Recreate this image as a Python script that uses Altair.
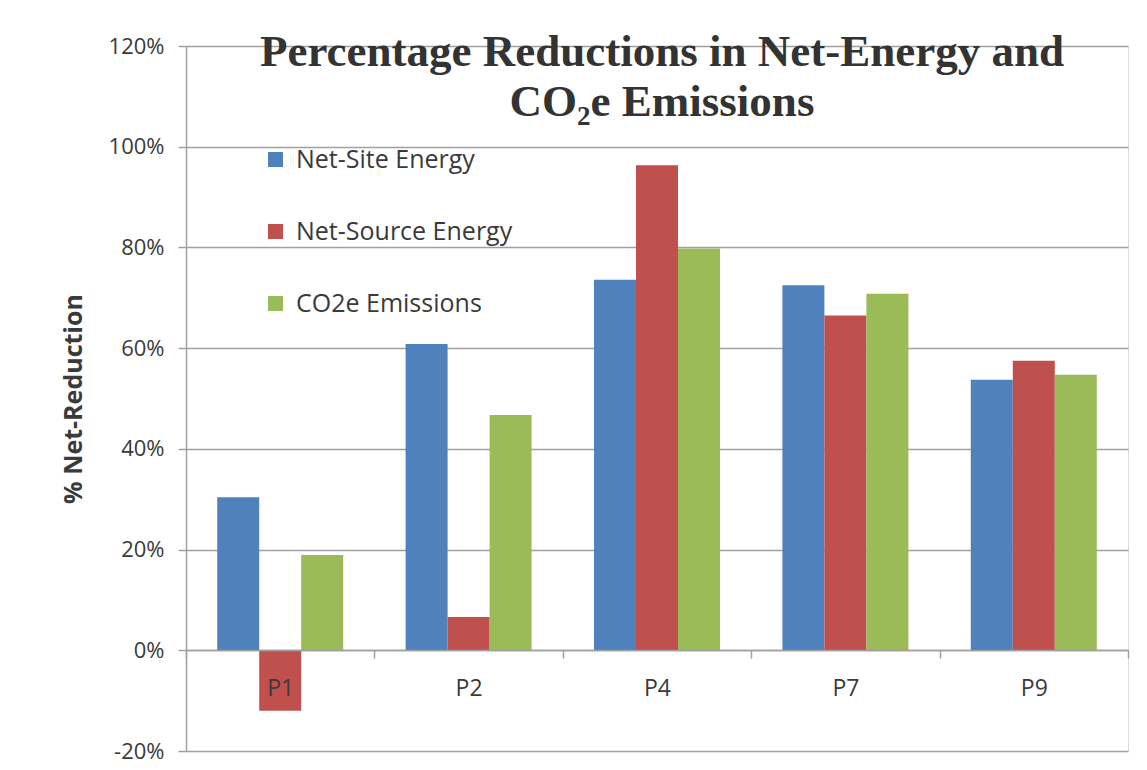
import altair as alt
import pandas as pd

projects = ["P1", "P2", "P4", "P7", "P9"]
series_names = ["Net-Site Energy", "Net-Source Energy", "CO2e Emissions"]
net_site = [0.304, 0.608, 0.736, 0.725, 0.537]
net_source = [-0.120, 0.066, 0.963, 0.665, 0.575]
co2e = [0.189, 0.467, 0.798, 0.708, 0.547]
colors = ["#4F81BD", "#C0504D", "#9BBB59"]
y_ticks = [-0.2, 0.0, 0.2, 0.4, 0.6, 0.8, 1.0, 1.2]

rows = []
for name, vals in zip(series_names, [net_site, net_source, co2e]):
    for p, v in zip(projects, vals):
        rows.append({"project": p, "series": name, "value": v})
df = pd.DataFrame(rows)

label_font = "Open Sans"
text_color = "#3a3a3a"
grid_color = "#a0a0a0"

bars = alt.Chart(df).mark_bar().encode(
    x=alt.X(
        "project:N",
        sort=projects,
        scale=alt.Scale(paddingInner=0, paddingOuter=0),
        axis=alt.Axis(
            title=None,
            orient="bottom",
            offset=-101,
            tickBand="extent",
            tickSize=8,
            tickColor=grid_color,
            tickWidth=1.5,
            domainColor=grid_color,
            domainWidth=1.5,
            labelFont=label_font,
            labelFontSize=23,
            labelColor=text_color,
            labelPadding=19,
            labelAngle=0,
            grid=False,
            zindex=1,
        ),
    ),
    xOffset=alt.XOffset("series:N", sort=series_names, scale=alt.Scale(paddingInner=0, paddingOuter=0.743)),
    y=alt.Y(
        "value:Q",
        scale=alt.Scale(domain=[-0.2, 1.2], nice=False, zero=False),
        axis=alt.Axis(
            title="% Net-Reduction",
            titleFont=label_font,
            titleFontSize=25,
            titleFontWeight="bold",
            titleColor=text_color,
            titlePadding=22,
            values=y_ticks,
            format=".0%",
            labelExpr="replace(datum.label, '\u2212', '-')",
            labelFont=label_font,
            labelFontSize=22,
            labelColor=text_color,
            labelPadding=14,
            tickSize=8,
            tickColor=grid_color,
            tickWidth=1.5,
            domainColor=grid_color,
            domainWidth=1.5,
            grid=True,
            gridColor=grid_color,
            gridWidth=1.5,
        ),
    ),
    color=alt.Color(
        "series:N",
        sort=series_names,
        scale=alt.Scale(domain=series_names, range=colors),
        legend=alt.Legend(
            title=None,
            orient="none",
            legendX=77,
            legendY=101,
            direction="vertical",
            symbolType="square",
            symbolSize=225,
            symbolStrokeWidth=0,
            symbolOpacity=1,
            labelFont=label_font,
            labelFontSize=25,
            labelColor=text_color,
            labelOffset=8,
            labelLimit=0,
            rowPadding=46,
            padding=0,
        ),
    ),
)

chart = bars.properties(
    width=942,
    height=705,
    autosize=alt.AutoSizeParams(type="none"),
    padding={"left": 178, "top": 38, "right": 11, "bottom": 13},
    title=alt.TitleParams(
        text=["Percentage Reductions in Net-Energy and", "CO₂e Emissions"],
        font="Liberation Serif",
        fontSize=45,
        fontWeight="bold",
        color="#333333",
        anchor="middle",
        offset=-90,
        lineHeight=50,
        dx=5,
    ),
).configure_view(stroke=None).configure(background="white")

chart.save("out.html", embed_options={"renderer": "svg", "actions": False})
